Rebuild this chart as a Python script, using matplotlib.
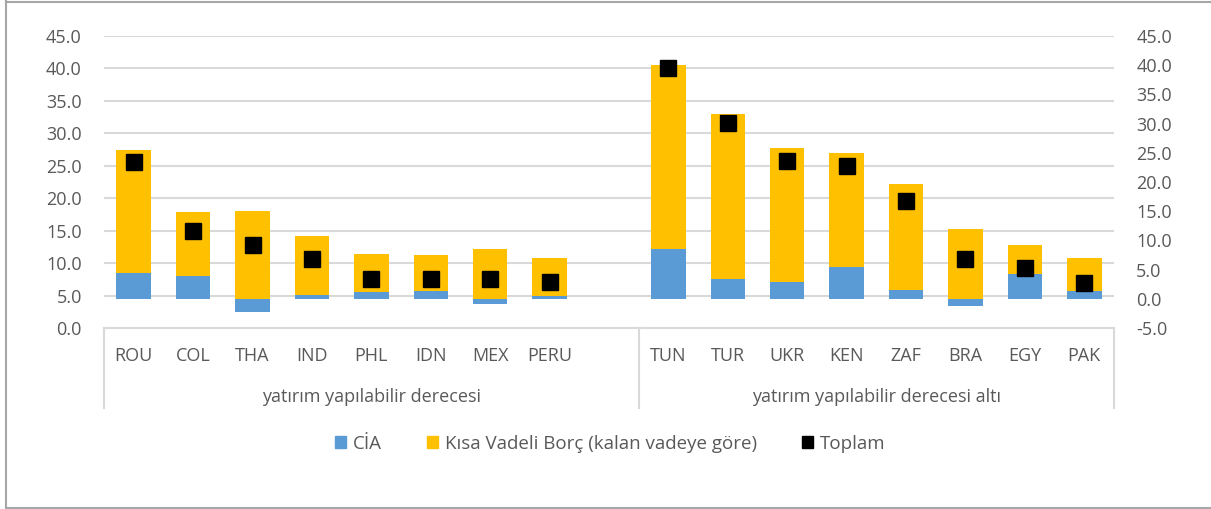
import matplotlib
matplotlib.use("Agg")
import matplotlib.pyplot as plt
import matplotlib.transforms as mtransforms
from matplotlib.lines import Line2D
from matplotlib.patches import Patch
import numpy as np

plt.rcParams['font.family'] = ['Open Sans', 'DejaVu Sans']

# data
countries_ig = ['ROU', 'COL', 'THA', 'IND', 'PHL', 'IDN', 'MEX', 'PERU']
countries_sub = ['TUN', 'TUR', 'UKR', 'KEN', 'ZAF', 'BRA', 'EGY', 'PAK']
group_labels = ['yatırım yapılabilir derecesi', 'yatırım yapılabilir derecesi altı']

cia_ig = [4.45, 3.94, -2.28, 0.68, 1.08, 1.37, -0.97, 0.51]
cia_sub = [8.6, 3.47, 2.96, 5.36, 1.54, -1.3, 4.33, 1.37]
debt_ig = [21.05, 11.0, 15.06, 10.1, 6.57, 6.16, 8.5, 6.56]
debt_sub = [31.44, 28.13, 22.94, 19.54, 18.16, 11.9, 4.91, 5.63]
toplam_ig = [25.6, 14.95, 12.75, 10.7, 7.55, 7.5, 7.5, 7.05]
toplam_sub = [40.0, 31.6, 25.8, 24.9, 19.6, 10.6, 9.2, 6.98]

BLUE = '#5B9BD5'
YELLOW = '#FFC000'
GRID = '#D9D9D9'
TEXT = '#595959'
FS = 13

W, H = 1211, 509
fig = plt.figure(figsize=(W / 100, H / 100), dpi=100)

left, right, top, bottom = 104, 1114, 36, 328
rect = [left / W, 1 - bottom / H, (right - left) / W, (bottom - top) / H]

# bars live on the secondary (-5..45) scale, markers on the primary (0..45)
ax = fig.add_axes(rect)
axm = ax.twinx()
axm.set_zorder(ax.get_zorder() + 1)
axm.patch.set_visible(False)

x_ig = np.arange(len(countries_ig))
x_sub = np.arange(len(countries_sub)) + len(countries_ig) + 1
xs = np.concatenate([x_ig, x_sub])
cia = np.array(cia_ig + cia_sub)
debt = np.array(debt_ig + debt_sub)
toplam = np.array(toplam_ig + toplam_sub)

bw = 0.58
ax.bar(xs, cia, width=bw, color=BLUE, zorder=2)
ax.bar(xs, debt, width=bw, bottom=np.where(cia > 0, cia, 0), color=YELLOW, zorder=2)
axm.plot(xs, toplam, 's', color='black', ms=11, zorder=3)

ax.set_xlim(-0.5, 16.5)
ax.set_ylim(-5, 45)
axm.set_ylim(0, 45)

# right axis on ax, left axis on axm
ax.yaxis.tick_right()
axm.yaxis.tick_left()
ax.set_yticks(np.arange(-5, 50, 5))
axm.set_yticks(np.arange(0, 50, 5))
for a in (ax, axm):
    a.yaxis.set_major_formatter(matplotlib.ticker.FormatStrFormatter('%.1f'))
    a.tick_params(axis='y', length=0, pad=16, labelsize=FS, labelcolor=TEXT)
    for s in a.spines.values():
        s.set_visible(False)

# gridlines follow the left (0..45) scale
gtrans = mtransforms.blended_transform_factory(ax.transAxes, axm.transData)
ax.hlines(np.arange(5, 50, 5), 0, 1, transform=gtrans, color=GRID, lw=1.5, zorder=0)
ax.plot([0, 1], [0, 0], transform=gtrans, color=GRID, lw=1.5, zorder=0, clip_on=False)

# category labels
ax.set_xticks(xs)
ax.set_xticklabels(countries_ig + countries_sub)
ax.tick_params(axis='x', length=0, pad=14, labelsize=FS, labelcolor=TEXT)

xtrans = mtransforms.blended_transform_factory(ax.transData, ax.transAxes)
for xb in (-0.5, 8.5, 16.5):
    ax.plot([xb, xb], [0, -0.274], transform=xtrans, color=GRID, lw=1.5, clip_on=False)
ax.text(4, -0.236, group_labels[0], transform=xtrans, ha='center', va='center',
        fontsize=FS, color=TEXT)
ax.text(12.5, -0.236, group_labels[1], transform=xtrans, ha='center', va='center',
        fontsize=FS, color=TEXT)

handles = [Patch(color=BLUE), Patch(color=YELLOW), Patch(color='black')]
labels = ['CİA', 'Kısa Vadeli Borç (kalan vadeye göre)', 'Toplam']
leg = fig.legend(handles, labels, loc='center', bbox_to_anchor=(610 / W, 1 - 444 / H),
                 ncol=3, frameon=False, fontsize=FS + 0.5, handlelength=0.6, handleheight=0.6,
                 handletextpad=0.35, columnspacing=2.4)
for t in leg.get_texts():
    t.set_color(TEXT)

# outer chart border
bc = '#A6A6A6'
fig.add_artist(Line2D([6 / W, 6 / W], [0, 1], color=bc, lw=1.5))
fig.add_artist(Line2D([6 / W, 1], [1 - 1.5 / H, 1 - 1.5 / H], color=bc, lw=1.5))
fig.add_artist(Line2D([6 / W, 1], [1.5 / H, 1.5 / H], color=bc, lw=1.5))

fig.savefig('out.png', dpi=100)
